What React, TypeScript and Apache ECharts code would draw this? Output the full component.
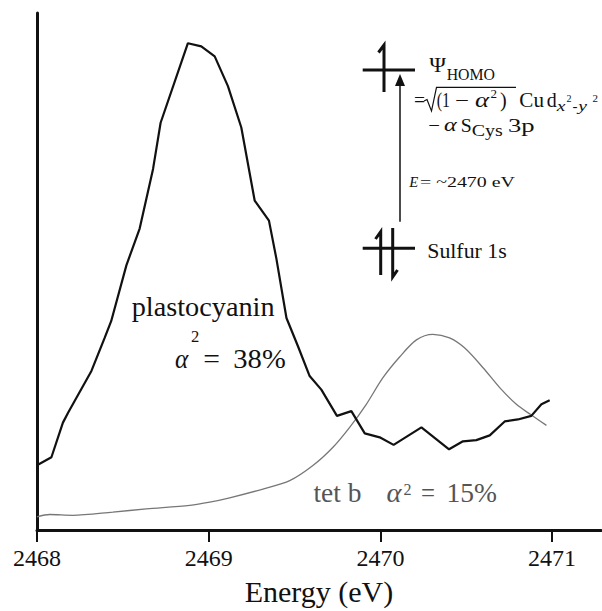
import React, { useEffect, useRef } from "react";
import * as echarts from "echarts";

// X axis ticks (eV)
const energyTicks = [2468, 2469, 2470, 2471];

// Plastocyanin S K-edge pre-edge spectrum (normalized intensity)
const plastoEnergy = [
  2468.0, 2468.084, 2468.151, 2468.181, 2468.317, 2468.394, 2468.432, 2468.521,
  2468.598, 2468.637, 2468.676, 2468.72, 2468.879, 2468.957, 2469.035, 2469.112,
  2469.19, 2469.268, 2469.351, 2469.394, 2469.453, 2469.52, 2469.588, 2469.656,
  2469.747, 2469.831, 2469.909, 2469.996, 2470.077, 2470.239, 2470.4, 2470.481,
  2470.559, 2470.637, 2470.724, 2470.801, 2470.879, 2470.938, 2470.986,
];
const plastoIntensity = [
  0.163, 0.183, 0.27, 0.295, 0.4, 0.483, 0.525, 0.666,
  0.758, 0.833, 0.908, 1.024, 1.224, 1.216, 1.191, 1.116,
  1.012, 0.828, 0.778, 0.683, 0.533, 0.462, 0.387, 0.353,
  0.287, 0.299, 0.243, 0.233, 0.214, 0.258, 0.203, 0.223,
  0.226, 0.238, 0.273, 0.278, 0.287, 0.316, 0.326,
];

// tet b model spectrum
const tetbEnergy = [
  2468.0, 2468.074, 2468.208, 2468.441, 2468.637, 2468.89, 2469.006, 2469.122,
  2469.316, 2469.472, 2469.607, 2469.724, 2469.821, 2469.918, 2470.015, 2470.112,
  2470.21, 2470.306, 2470.403, 2470.49, 2470.598, 2470.695, 2470.792, 2470.879,
  2470.967,
];
const tetbIntensity = [
  0.033, 0.039, 0.037, 0.045, 0.053, 0.062, 0.07, 0.081,
  0.103, 0.124, 0.162, 0.208, 0.258, 0.316, 0.383, 0.435,
  0.478, 0.492, 0.483, 0.458, 0.408, 0.358, 0.316, 0.289,
  0.263,
];

const FONT = "Liberation Serif";
const INK = "#111111";
const GREY_TEXT = "#555555";

export default function App() {
  const ref = useRef<HTMLDivElement | null>(null);

  useEffect(() => {
    if (!ref.current) return;
    const chart = echarts.init(ref.current, null, { renderer: "svg" });
    const ctx = document.createElement("canvas").getContext("2d");

    const txt = (
      text: string,
      left: number,
      baseline: number,
      size: number,
      opts: { italic?: boolean; width?: number; color?: string } = {}
    ) => {
      const italic = !!opts.italic;
      let scaleX = 1;
      if (opts.width && ctx) {
        ctx.font = `${italic ? "italic " : ""}${size}px "${FONT}"`;
        const w = ctx.measureText(text).width;
        if (w > 0) scaleX = Math.max(0.7, Math.min(1.4, opts.width / w));
      }
      return {
        type: "text",
        x: left,
        y: baseline - 0.3375 * size,
        scaleX,
        silent: true,
        style: {
          text,
          fontSize: size,
          fontFamily: FONT,
          fontStyle: italic ? "italic" : "normal",
          fill: opts.color || INK,
          align: "left",
          verticalAlign: "middle",
        },
      };
    };

    const line = (x1: number, y1: number, x2: number, y2: number, w: number) => ({
      type: "line",
      silent: true,
      shape: { x1, y1, x2, y2 },
      style: { stroke: INK, lineWidth: w },
    });
    const poly = (points: number[][], w: number) => ({
      type: "polyline",
      silent: true,
      shape: { points },
      style: { stroke: INK, lineWidth: w, fill: null },
    });

    const graphics: any[] = [
      // energy level diagram
      line(362.7, 70, 415, 70, 3),
      poly([[378.5, 52.5], [384, 45], [384, 92]], 3),
      line(400, 221.7, 400, 84, 1.5),
      {
        type: "polygon",
        silent: true,
        shape: { points: [[400, 74], [395, 86], [405, 86]] },
        style: { fill: INK },
      },
      line(362.7, 248.3, 415, 248.3, 3),
      poly([[375.5, 239], [380.7, 231.7], [380.7, 275]], 3),
      poly([[392.7, 228], [392.7, 277], [397.5, 270]], 3),

      // Psi_HOMO
      txt("Ψ", 429.3, 71.7, 22, { width: 16.7 }),
      txt("HOMO", 446.7, 80, 16.5, { width: 48.3 }),
      // = sqrt((1 - a^2)) Cu d x2-y2
      txt("=", 414, 107, 20, { width: 11 }),
      poly([[424, 101], [427, 99.5], [431.5, 111], [436.5, 87.3], [516, 87.3]], 1.2),
      txt("(1", 436.7, 107, 20, { width: 13.3 }),
      txt("−", 455, 107, 20, { width: 14 }),
      txt("α", 475, 107, 20, { italic: true, width: 14 }),
      txt("2", 490.5, 98, 13, { width: 6.5 }),
      txt(")", 500, 107, 20, { width: 6.7 }),
      txt("Cu", 519.3, 107, 20, { width: 24.7 }),
      txt("d", 546.7, 107, 20, { width: 10 }),
      txt("x", 556.7, 111, 14, { italic: true, width: 9 }),
      txt("2", 566.5, 102, 10, { width: 5 }),
      txt("-", 572.5, 111, 14, { width: 5 }),
      txt("y", 578.3, 111, 14, { italic: true, width: 12 }),
      txt("2", 592.5, 102, 10, { width: 5.5 }),
      // - a S_Cys 3p
      txt("−", 428.3, 131.7, 19, { width: 11.7 }),
      txt("α", 444, 131.7, 19, { italic: true, width: 12.7 }),
      txt("S", 460.7, 131.7, 19, { width: 11 }),
      txt("Cys", 471.7, 136, 16, { width: 31 }),
      txt("3p", 508, 131.7, 19, { width: 27 }),
      // E = ~2470 eV
      txt("E", 409.3, 187.3, 15, { italic: true, width: 9 }),
      txt("= ~2470 eV", 420, 187.3, 15, { width: 95 }),
      // Sulfur 1s
      txt("Sulfur 1s", 427.3, 258.3, 20, { width: 79.4 }),

      // plastocyanin label
      txt("plastocyanin", 131.7, 315.7, 28, { width: 143 }),
      txt("α", 175, 368.3, 27, { italic: true, width: 13.3 }),
      txt("2", 191, 341.7, 16, { width: 8.3 }),
      txt("=", 203.3, 368.3, 27, { width: 16.7 }),
      txt("38%", 233.3, 368.3, 27, { width: 52.4 }),

      // tet b label
      txt("tet b", 313.5, 502, 27, { width: 48, color: GREY_TEXT }),
      txt("α", 386.5, 502, 27, { italic: true, width: 15, color: GREY_TEXT }),
      txt("2", 403.5, 495, 16, { width: 8, color: GREY_TEXT }),
      txt("=", 421, 502, 27, { width: 14, color: GREY_TEXT }),
      txt("15%", 446.5, 502, 27, { width: 50.5, color: GREY_TEXT }),
    ];

    const option: any = {
      animation: false,
      backgroundColor: "#ffffff",
      grid: { left: 37, right: 1, top: 13, bottom: 78, containLabel: false },
      xAxis: {
        type: "value",
        min: 2468,
        max: 2471.285,
        interval: 1,
        name: "Energy (eV)",
        nameLocation: "middle",
        nameGap: 46,
        nameTextStyle: { fontFamily: FONT, fontSize: 30, color: INK },
        axisLine: { show: true, onZero: false, lineStyle: { color: INK, width: 3 } },
        axisTick: {
          show: true,
          length: 12,
          customValues: energyTicks,
          lineStyle: { color: INK, width: 2 },
        },
        axisLabel: {
          show: true,
          customValues: energyTicks,
          margin: 16,
          fontFamily: FONT,
          fontSize: 24,
          color: INK,
          formatter: (v: number) => String(Math.round(v)),
        },
        splitLine: { show: false },
      },
      yAxis: {
        type: "value",
        min: 0,
        max: 1.3,
        axisLine: { show: true, onZero: false, lineStyle: { color: INK, width: 3 } },
        axisTick: { show: false },
        axisLabel: { show: false },
        splitLine: { show: false },
      },
      series: [
        {
          name: "tet b",
          type: "line",
          data: tetbEnergy.map((e, i) => [e, tetbIntensity[i]]),
          showSymbol: false,
          smooth: 0.3,
          lineStyle: { color: "#777777", width: 1.3 },
          z: 2,
        },
        {
          name: "plastocyanin",
          type: "line",
          data: plastoEnergy.map((e, i) => [e, plastoIntensity[i]]),
          showSymbol: false,
          smooth: false,
          lineStyle: { color: INK, width: 2.2 },
          z: 3,
        },
      ],
      graphic: graphics,
    };
    chart.setOption(option);
    return () => chart.dispose();
  }, []);

  return (
    <div
      ref={ref}
      style={{ position: "absolute", left: 0, top: 0, width: 602, height: 611 }}
    />
  );
}
